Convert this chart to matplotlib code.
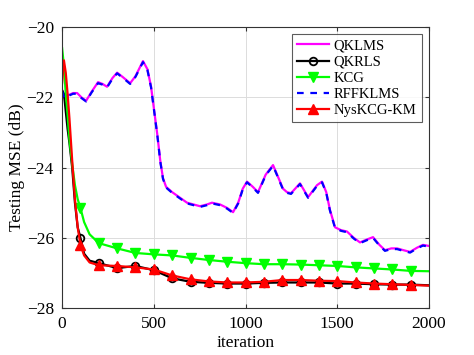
import numpy as np
import matplotlib
matplotlib.use("Agg")
import matplotlib.pyplot as plt

# adaptive-filter curves
it_fast = [0, 10, 20, 30, 40, 55, 70, 85, 100, 120, 150, 200, 300, 400, 500,
           600, 700, 800, 900, 1000, 1100, 1200, 1300, 1400, 1500, 1600, 1700,
           1800, 1900, 2000]
qkrls = [-21.8, -21.9, -22.4, -22.9, -23.3, -24.0, -25.0, -25.7, -26.0, -26.45,
         -26.65, -26.72, -26.86, -26.8, -26.92, -27.15, -27.25, -27.28, -27.3,
         -27.3, -27.28, -27.27, -27.27, -27.27, -27.3, -27.3, -27.32, -27.33,
         -27.33, -27.35]
kcg = [-20.6, -21.1, -21.9, -22.5, -23.2, -23.9, -24.5, -24.9, -25.15, -25.55,
       -25.9, -26.15, -26.3, -26.43, -26.47, -26.5, -26.57, -26.63, -26.68,
       -26.72, -26.75, -26.75, -26.76, -26.78, -26.8, -26.84, -26.87, -26.9,
       -26.94, -26.95]
nyskcg = [-21.6, -20.95, -21.3, -21.9, -22.6, -23.8, -24.9, -25.7, -26.2, -26.5,
          -26.7, -26.78, -26.8, -26.84, -26.9, -27.07, -27.18, -27.24, -27.27,
          -27.27, -27.25, -27.2, -27.2, -27.22, -27.23, -27.27, -27.3, -27.32,
          -27.34, -27.36]

it_slow = [0, 10, 30, 60, 82, 105, 131, 160, 196, 220, 245, 275, 300, 332, 371,
           400, 441, 465, 485, 505, 520, 535, 550, 567, 600, 627, 681, 752, 790,
           817, 861, 900, 932, 960, 985, 1008, 1040, 1068, 1110, 1150, 1180,
           1204, 1226, 1248, 1297, 1341, 1390, 1417, 1440, 1460, 1488, 1520,
           1553, 1590, 1624, 1660, 1695, 1730, 1760, 1795, 1826, 1860, 1897,
           1935, 1967, 2000]
qklms = [-21.8, -22.0, -21.95, -21.88, -21.88, -22.0, -22.1, -21.85, -21.57,
         -21.62, -21.7, -21.45, -21.3, -21.43, -21.6, -21.4, -20.97, -21.2,
         -21.7, -22.5, -23.1, -23.8, -24.3, -24.55, -24.7, -24.8, -25.0, -25.1,
         -25.05, -25.0, -25.05, -25.15, -25.27, -25.0, -24.6, -24.4, -24.55,
         -24.7, -24.2, -23.93, -24.3, -24.6, -24.7, -24.73, -24.45, -24.84,
         -24.5, -24.4, -24.7, -25.2, -25.7, -25.78, -25.82, -26.0, -26.13,
         -26.05, -25.98, -26.2, -26.35, -26.3, -26.3, -26.35, -26.4, -26.28,
         -26.2, -26.23]
rffklms = [-21.82, -22.02, -21.97, -21.9, -21.9, -22.02, -22.12, -21.87, -21.6,
           -21.64, -21.72, -21.47, -21.32, -21.45, -21.62, -21.42, -21.0, -21.22,
           -21.72, -22.52, -23.12, -23.82, -24.32, -24.57, -24.72, -24.82,
           -25.02, -25.12, -25.07, -25.02, -25.07, -25.17, -25.29, -25.02,
           -24.62, -24.42, -24.57, -24.72, -24.22, -23.95, -24.32, -24.62,
           -24.72, -24.75, -24.47, -24.86, -24.52, -24.42, -24.72, -25.22,
           -25.72, -25.8, -25.84, -26.02, -26.15, -26.07, -26.0, -26.22, -26.37,
           -26.32, -26.32, -26.37, -26.42, -26.3, -26.22, -26.25]

marks = [i for i, v in enumerate(it_fast) if v % 100 == 0 and 0 < v < 2000]

plt.rcParams['font.family'] = ['Liberation Serif', 'DejaVu Serif']

fig = plt.figure(figsize=(4.74, 3.55), dpi=100)
ax = fig.add_axes([0.131, 0.132, 0.774, 0.792])

ax.plot(it_slow, qklms, color='#ff00ff', lw=1.6, label='QKLMS')
ax.plot(it_fast, qkrls, color='black', lw=1.6, marker='o', markevery=marks,
        ms=5.5, mfc='none', mew=1.3, label='QKRLS')
ax.plot(it_fast, kcg, color='#00ff00', lw=1.6, marker='v', markevery=marks,
        ms=7, label='KCG')
ax.plot(it_slow, rffklms, color='#0000ff', lw=1.6, ls=(0, (3, 3)),
        label='RFFKLMS')
ax.plot(it_fast, nyskcg, color='#ff0000', lw=1.6, marker='^', markevery=marks,
        ms=7, label='NysKCG-KM')

ax.set_xlim(0, 2000)
ax.set_ylim(-28, -20)
ax.set_xticks(np.arange(0, 2001, 500))
ax.set_yticks(np.arange(-28, -19, 2))
ax.grid(True, color='#dcdcdc', lw=0.7)
ax.tick_params(direction='in', labelsize=12.5, top=True, right=True,
               length=3, color='#333333', pad=6)
for s in ax.spines.values():
    s.set_linewidth(0.8)
    s.set_color('#333333')
ax.set_xlabel('iteration', fontsize=12.5, labelpad=2)
ax.set_ylabel('Testing MSE (dB)', fontsize=12.5, labelpad=1)

leg = ax.legend(loc='upper right', fontsize=10.5, frameon=True, fancybox=False,
                edgecolor='#333333', handlelength=2.2, handletextpad=0.3,
                labelspacing=0.2, borderpad=0.35, borderaxespad=0.5)
leg.get_frame().set_linewidth(0.8)

fig.savefig('out.png', dpi=100)
